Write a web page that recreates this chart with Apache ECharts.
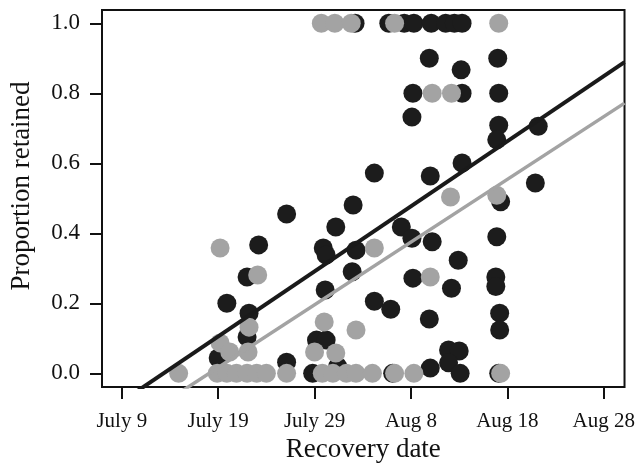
<!DOCTYPE html>
<html>
<head>
<meta charset="utf-8">
<script src="https://cdn.jsdelivr.net/npm/echarts@6/dist/echarts.min.js"></script>
<style>html,body{margin:0;padding:0;background:#fff}#c{width:638px;height:470px}</style>
</head>
<body>
<div id="c"></div>
<script>
// x = days after July 9
const xTickDays = [0, 10, 20, 30, 40, 50];
const xTickLabels = ['July 9', 'July 19', 'July 29', 'Aug 8', 'Aug 18', 'Aug 28'];
const yTickValues = [0, 0.2, 0.4, 0.6, 0.8, 1.0];

const blackX = [24.2, 27.7, 29.3, 30.3, 32.1, 33.6, 34.5, 35.3,
  31.9, 39.0, 35.2, 30.2, 35.3, 39.1, 30.1, 39.1, 38.9, 43.2, 35.3, 26.2, 32.0, 42.9, 39.3, 24.0,
  17.1, 22.2, 14.2, 20.9, 21.2, 24.3, 23.9, 13.0, 21.1, 10.9, 13.2, 13.0, 20.2, 21.2, 10.0, 17.1, 22.4, 19.8,
  29.0, 30.1, 32.2, 38.9, 34.9, 30.2, 34.2, 38.8, 38.8, 26.2, 27.9, 31.9, 39.2, 39.2,
  33.9, 35.0, 32.0, 33.9, 28.1, 35.1, 39.1];
const blackY = [1.0, 1.0, 1.0, 1.0, 1.0, 1.0, 1.0, 1.0,
  0.9, 0.9, 0.867, 0.8, 0.8, 0.8, 0.732, 0.709, 0.667, 0.706, 0.601, 0.572, 0.564, 0.544, 0.49, 0.481,
  0.455, 0.418, 0.367, 0.358, 0.338, 0.352, 0.29, 0.275, 0.238, 0.2, 0.172, 0.104, 0.095, 0.095, 0.044, 0.032, 0.02, 0.0,
  0.418, 0.386, 0.376, 0.39, 0.323, 0.272, 0.243, 0.275, 0.248, 0.206, 0.183, 0.155, 0.172, 0.124,
  0.067, 0.064, 0.015, 0.03, 0.0, 0.0, 0.0];

const grayX = [20.7, 22.1, 23.8, 28.3, 39.1,
  32.2, 34.2, 34.1, 38.9, 10.2, 14.1, 26.2, 32.0, 13.2, 21.0, 24.3, 10.2, 11.2, 13.1, 20.0, 22.2,
  5.9, 9.9, 10.9, 11.9, 13.0, 14.0, 15.0, 17.1, 20.8, 21.9, 23.3, 24.3, 26.0, 28.3, 30.3, 39.3];
const grayY = [1.0, 1.0, 1.0, 1.0, 1.0,
  0.8, 0.8, 0.504, 0.509, 0.358, 0.281, 0.358, 0.275, 0.132, 0.147, 0.124, 0.087, 0.061, 0.061, 0.061, 0.058,
  0.0, 0.0, 0.0, 0.0, 0.0, 0.0, 0.0, 0.0, 0.0, 0.0, 0.0, 0.0, 0.0, 0.0, 0.0, 0.0];

// fitted lines: [intercept, slope per day]
const blackFit = [-0.0805, 0.01859];
const grayFit = [-0.1625, 0.01792];

const X_MIN = -2.05, X_MAX = 52.15, Y_MIN = -0.039, Y_MAX = 1.038;
const zip = (xs, ys) => xs.map((x, i) => [x, ys[i]]);
const fitLine = f => [[X_MIN, f[0] + f[1] * X_MIN], [X_MAX, f[0] + f[1] * X_MAX]];

const FONT = '"Liberation Serif", "Times New Roman", serif';
const chart = echarts.init(document.getElementById('c'), null, {renderer: 'canvas'});
chart.setOption({
  animation: false,
  backgroundColor: '#fff',
  grid: {left: 102, top: 10, right: 12, bottom: 83, show: true, borderColor: '#111', borderWidth: 2, backgroundColor: 'transparent'},
  graphic: [{
    type: 'text', x: 22, y: 186, rotation: Math.PI / 2,
    style: {text: 'Proportion retained', fontFamily: FONT, fontSize: 27, fill: '#111', align: 'center', verticalAlign: 'middle'}
  }],
  xAxis: {
    type: 'value', min: X_MIN, max: X_MAX,
    name: 'Recovery date', nameLocation: 'middle', nameGap: 40,
    nameTextStyle: {fontFamily: FONT, fontSize: 27, color: '#111'},
    axisLine: {show: false, onZero: false},
    axisTick: {show: true, inside: false, length: 12, lineStyle: {color: '#111', width: 2}, customValues: xTickDays},
    axisLabel: {fontFamily: FONT, fontSize: 21, color: '#111', margin: 24, customValues: xTickDays,
      formatter: v => xTickLabels[xTickDays.indexOf(Math.round(v))] || ''},
    splitLine: {show: false}
  },
  yAxis: {
    type: 'value', min: Y_MIN, max: Y_MAX,
    axisLine: {show: false, onZero: false},
    axisTick: {show: true, inside: false, length: 12, lineStyle: {color: '#111', width: 2}, customValues: yTickValues},
    axisLabel: {fontFamily: FONT, fontSize: 23, color: '#111', margin: 22, customValues: yTickValues,
      formatter: v => v.toFixed(1)},
    splitLine: {show: false}
  },
  series: [
    {type: 'scatter', data: zip(blackX, blackY), symbolSize: 19, itemStyle: {color: '#1c1c1c', opacity: 1}, z: 2},
    {type: 'scatter', data: zip(grayX, grayY), symbolSize: 19, itemStyle: {color: '#a3a3a3', opacity: 1}, z: 3},
    {type: 'line', data: fitLine(blackFit), symbol: 'none', clip: true, lineStyle: {color: '#1a1a1a', width: 4}, z: 4},
    {type: 'line', data: fitLine(grayFit), symbol: 'none', clip: true, lineStyle: {color: '#a3a3a3', width: 3.5}, z: 4}
  ]
});
</script>
</body>
</html>
